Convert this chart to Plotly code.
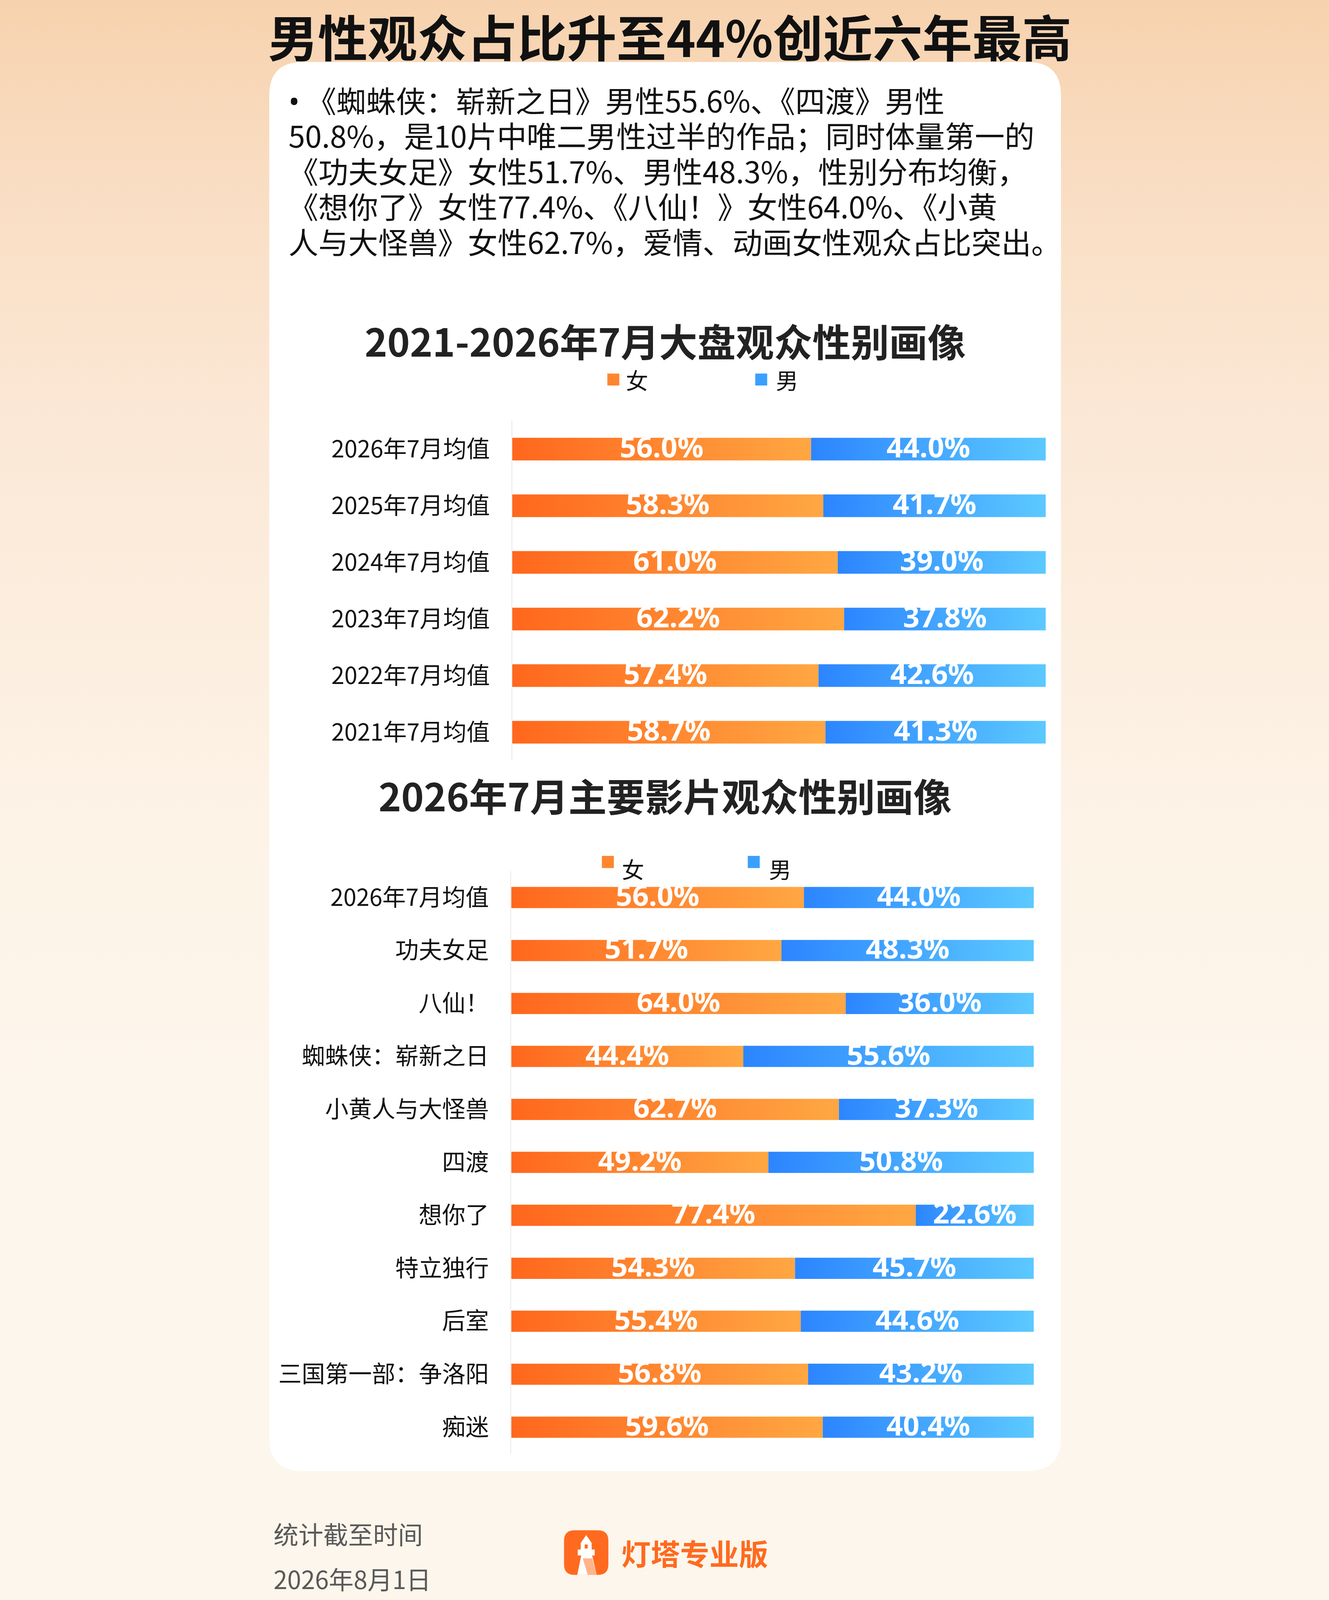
import plotly.graph_objects as go

W, H = 3401, 6429

# ---- data ----
main_title = "男性观众占比升至44%创近六年最高"
summary_lines = [
    "<span style='font-family:Noto Sans'>•</span> 《蜘蛛侠：崭新之日》男性55.6%、《四渡》男性",
    "50.8%，是10片中唯二男性过半的作品；同时体量第一的",
    "《功夫女足》女性51.7%、男性48.3%，性别分布均衡，",
    "《想你了》女性77.4%、《八仙！》女性64.0%、《小黄",
    "人与大怪兽》女性62.7%，爱情、动画女性观众占比突出。",
]
series_names = ["女", "男"]

title1 = "2021-2026年7月大盘观众性别画像"
years = ["2026年7月均值", "2025年7月均值", "2024年7月均值",
         "2023年7月均值", "2022年7月均值", "2021年7月均值"]
female_years = [56.0, 58.3, 61.0, 62.2, 57.4, 58.7]
male_years = [44.0, 41.7, 39.0, 37.8, 42.6, 41.3]

title2 = "2026年7月主要影片观众性别画像"
films = ["2026年7月均值", "功夫女足", "八仙！", "蜘蛛侠：崭新之日", "小黄人与大怪兽",
         "四渡", "想你了", "特立独行", "后室", "三国第一部：争洛阳", "痴迷"]
female_films = [56.0, 51.7, 64.0, 44.4, 62.7, 49.2, 77.4, 54.3, 55.4, 56.8, 59.6]
male_films = [44.0, 48.3, 36.0, 55.6, 37.3, 50.8, 22.6, 45.7, 44.6, 43.2, 40.4]

footer_lines = ["统计截至时间", "2026年8月1日"]
brand = "灯塔专业版"

# ---- style ----
CJK = "Noto Sans CJK SC"
NUM = "Noto Sans, Noto Sans CJK SC"
ORANGE = [[0, "#FF671D"], [1, "#FFA743"]]
BLUE = [[0, "#2C85FF"], [1, "#5CC9FF"]]
BAR_HALF = 0.2
BG = "#FDF6EC"
# page background: peach at the top fading to cream (stop positions in figure px)
BG_STOPS = [("#F7D2AE", 0), ("#F9DDC2", 700), ("#FBE8D6", 1700), ("#FDF3E7", 3300), (BG, 4500)]


def px(x):
    return x / W


def py(y):
    return 1 - y / H


fig = go.Figure()


def add_chart(cats, female, male, xa, ya):
    xr = "x" if xa == 1 else "x%d" % xa
    yr = "y" if ya == 1 else "y%d" % ya
    for i, cat in enumerate(cats):
        segs = [(0, female[i], ORANGE), (female[i], female[i] + male[i], BLUE)]
        for a, b, cs in segs:
            fig.add_trace(go.Scatter(
                x=[a, b, b, a, a],
                y=[i - BAR_HALF, i - BAR_HALF, i + BAR_HALF, i + BAR_HALF, i - BAR_HALF],
                xaxis=xr, yaxis=yr, mode="lines", fill="toself",
                line=dict(width=0), fillgradient=dict(type="horizontal", colorscale=cs),
                hoverinfo="skip", showlegend=False))
    mids = [f / 2 for f in female] + [f + m / 2 for f, m in zip(female, male)]
    vals = female + male
    ys = list(range(len(cats))) * 2
    fig.add_trace(go.Scatter(
        x=mids, y=[y + 0.02 for y in ys], xaxis=xr, yaxis=yr, mode="text",
        text=["%.1f%%" % v for v in vals], textposition="middle center",
        textfont=dict(family=NUM, size=116, color="white", weight="bold"),
        hoverinfo="skip", showlegend=False))


add_chart(years, female_years, male_years, 1, 1)
add_chart(films, female_films, male_films, 2, 2)

axis_common = dict(showgrid=False, zeroline=False)
fig.update_layout(
    xaxis=dict(domain=[px(1089), px(3232)], range=[0, 100], visible=False, **axis_common),
    yaxis=dict(domain=[py(3056), py(1691)], range=[len(years) - 0.5, -0.5],
               tickvals=list(range(len(years))), ticktext=years,
               tickfont=dict(family=CJK, size=94, color="#111111"),
               ticklabelstandoff=68, showline=True, linecolor="#E8E8E8", linewidth=3,
               anchor="x", **axis_common),
    xaxis2=dict(domain=[px(1085), px(3184)], range=[0, 100], visible=False,
                anchor="y2", **axis_common),
    yaxis2=dict(domain=[py(5841), py(3500)], range=[len(films) - 0.5, -0.5],
                tickvals=list(range(len(films))), ticktext=films,
                tickfont=dict(family=CJK, size=94, color="#111111"),
                ticklabelstandoff=68, showline=True, linecolor="#E8E8E8", linewidth=3,
                anchor="x2", **axis_common),
)

# ---- card, logo ----
shapes = []


def rounded(x0, y0, x1, y1, r):
    X0, X1 = px(x0), px(x1)
    YT, YB = py(y0), py(y1)
    rx, ry = r / W, r / H
    return (f"M {X0 + rx},{YT} L {X1 - rx},{YT} Q {X1},{YT} {X1},{YT - ry} "
            f"L {X1},{YB + ry} Q {X1},{YB} {X1 - rx},{YB} L {X0 + rx},{YB} "
            f"Q {X0},{YB} {X0},{YB + ry} L {X0},{YT - ry} Q {X0},{YT} {X0 + rx},{YT} Z")


shapes.append(dict(type="path", xref="paper", yref="paper", path=rounded(113, 249, 3293, 5911, 135),
                   fillcolor="white", line=dict(width=0), layer="below"))
shapes.append(dict(type="path", xref="paper", yref="paper", path=rounded(1297, 6149, 1475, 6328, 42),
                   fillcolor="#FF6A1F", line=dict(width=0), layer="below"))
# lighthouse glyph of the logo
lh = [(1386, 6168), (1408, 6200), (1408, 6226), (1420, 6226), (1420, 6250),
      (1410, 6250), (1428, 6328), (1350, 6328), (1366, 6250), (1352, 6250),
      (1352, 6226), (1364, 6226), (1364, 6200)]
path = "M " + " L ".join(f"{px(a)},{py(b)}" for a, b in lh) + " Z"
shapes.append(dict(type="path", xref="paper", yref="paper", path=path,
                   fillcolor="white", line=dict(width=0), layer="below"))
stripe = [(1372, 6262), (1410, 6262), (1428, 6328), (1392, 6328)]
shapes.append(dict(type="path", xref="paper", yref="paper",
                   path="M " + " L ".join(f"{px(a)},{py(b)}" for a, b in stripe) + " Z",
                   fillcolor="#FFB58A", line=dict(width=0), layer="below"))
shapes.append(dict(type="rect", xref="paper", yref="paper", x0=px(1380), x1=px(1392),
                   y0=py(6222), y1=py(6206), fillcolor="#FF6A1F", line=dict(width=0), layer="below"))

# legend swatches
leg = [(1471, 1501, 1549, "#FF8630"), (2065, 1501, 1549, "#3AA0FF"),
       (1449, 3439, 3488, "#FF8630"), (2035, 3439, 3488, "#3AA0FF")]
for x0, y0, y1, c in leg:
    shapes.append(dict(type="rect", xref="paper", yref="paper", x0=px(x0), x1=px(x0 + 48),
                       y0=py(y1), y1=py(y0), fillcolor=c, line=dict(width=0)))

# ---- text ----
ann = []


def text(s, x, y, size, color="#111111", xanchor="left", family=CJK, weight="normal"):
    ann.append(dict(text=s, x=px(x), y=py(y), xref="paper", yref="paper",
                    xanchor=xanchor, yanchor="middle", showarrow=False,
                    font=dict(family=family, size=size, color=color, weight=weight)))


text(main_title, 1723, 142, 200, "#111111", "center", weight="bold")
for i, line in enumerate(summary_lines):
    text(line, 188, 400 + 142 * i, 120)
text(title1, 1703, 1366, 154, "#222222", "center", weight="bold")
text(title2, 1703, 3192, 154, "#222222", "center", weight="bold")
text(series_names[0], 1543, 1525, 90)
text(series_names[1], 2146, 1525, 90)
text(series_names[0], 1527, 3490, 90)
text(series_names[1], 2118, 3490, 90)
text(footer_lines[0], 128, 6160, 100, "#595959")
text(footer_lines[1], 128, 6341, 100, "#595959")
text(brand, 1525, 6238, 118, "#FF6A1F", weight="bold")

fig.update_layout(
    width=W, height=H, margin=dict(l=0, r=0, t=0, b=0),
    paper_bgcolor="rgba(0,0,0,0)", plot_bgcolor="rgba(0,0,0,0)",
    shapes=shapes, annotations=ann, showlegend=False,
)

# the browser viewport may be shorter than the figure: scale the page to fit it,
# and paint the background gradient on the page so it also fills the side margins
stops = ",".join("%s '+(%d*s)+'px" % (c, p) for c, p in BG_STOPS)
fit = ("document.body.style.margin='0';"
       "document.body.style.overflow='hidden';"
       "document.body.style.background='transparent';"
       "var gd=document.getElementById('{plot_id}');"
       "var s=Math.min(1, window.innerHeight/%d, window.innerWidth/%d);"
       "document.documentElement.style.background='linear-gradient(to bottom," + stops + ") fixed';"
       "gd.style.transformOrigin='0 0';"
       "gd.style.transform='translate('+((window.innerWidth-%d*s)/2)+'px,0px) scale('+s+')';"
       ) % (H, W, W)
fig.write_html("out.html", post_script=fit)
